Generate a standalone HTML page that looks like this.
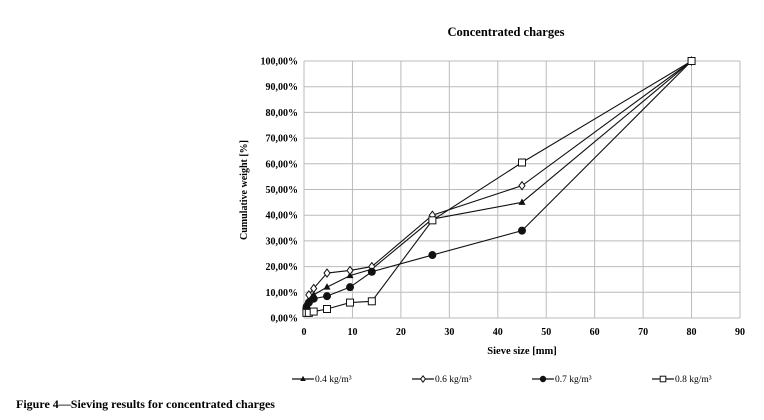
<!DOCTYPE html>
<html><head><meta charset="utf-8"><style>
body{margin:0;background:#fff;}
svg{display:block;font-family:"Liberation Serif",serif;}
</style></head><body>
<svg id="chart" width="764" height="420">
<text x="506" y="36" text-anchor="middle" font-size="12.5" font-weight="bold">Concentrated charges</text>
<g id="grid"></g><g id="axes"></g><g id="series"></g>
<text transform="translate(247,190) rotate(-90)" text-anchor="middle" font-size="10" font-weight="bold">Cumulative weight [%]</text>
<text x="522" y="354" text-anchor="middle" font-size="10.5" font-weight="bold">Sieve size [mm]</text>
<g id="legend"></g>
<text x="16" y="408" font-size="12" font-weight="bold">Figure 4—Sieving results for concentrated charges</text>
</svg>
<script>
const xTicks=[0,10,20,30,40,50,60,70,80,90];
const yTicks=[0,10,20,30,40,50,60,70,80,90,100];
const seriesNames=["0.4 kg/m³","0.6 kg/m³","0.7 kg/m³","0.8 kg/m³"];
const seriesMarkers=["triangle","diamond","circle","square"];
const sizes=[0.5,1,2,4.75,9.5,14,26.5,45,80];
const s04=[4,7,9,12,16.5,19,38.5,45,100];
const s06=[5,9,11.5,17.5,18.5,20,40,51.5,100];
const s07=[4,6,7.5,8.5,12,18,24.5,34,100];
const s08=[2,2,2.5,3.5,6,6.5,38,60.5,100];
const allSeries=[s04,s06,s07,s08];
const X0=304,X1=740,Y0=318,Y1=61;
const sx=v=>X0+(v-0)/90*(X1-X0);
const sy=v=>Y0-(v/100)*(Y0-Y1);
const NS="http://www.w3.org/2000/svg";
function mk(tag,attrs,parent){const e=document.createElementNS(NS,tag);for(const k in attrs)e.setAttribute(k,attrs[k]);parent.appendChild(e);return e;}
const grid=document.getElementById('grid'),axes=document.getElementById('axes'),ser=document.getElementById('series'),leg=document.getElementById('legend');
yTicks.forEach(t=>{const l=mk('line',{x1:X0,x2:X1,y1:sy(t),y2:sy(t),stroke:'#bbb','stroke-width':1},grid);

const tx=mk('text',{x:X0-6,y:sy(t)+3.5,'text-anchor':'end','font-size':10,'font-weight':'bold'},axes);tx.textContent=t.toFixed(2).replace('.',',')+'%';
});
xTicks.forEach(t=>{const l=mk('line',{x1:sx(t),x2:sx(t),y1:Y0,y2:Y1,stroke:'#bbb','stroke-width':1},grid);

const tx=mk('text',{x:sx(t),y:Y0+17,'text-anchor':'middle','font-size':10,'font-weight':'bold'},axes);tx.textContent=t;
});
function marker(type,x,y,p,s){s=s||1;let e;
if(type==='triangle')e=mk('polygon',{points:`${x},${y-4*s} ${x-3.5*s},${y+2.5*s} ${x+3.5*s},${y+2.5*s}`,fill:'#111'},p);
else if(type==='diamond')e=mk('polygon',{points:`${x},${y-4*s} ${x+3*s},${y} ${x},${y+4*s} ${x-3*s},${y}`,fill:'#fff',stroke:'#111','stroke-width':1},p);
else if(type==='circle')e=mk('circle',{cx:x,cy:y,r:4*s,fill:'#111'},p);
else e=mk('rect',{x:x-3.5*s,y:y-3.5*s,width:7*s,height:7*s,fill:'#fff',stroke:'#111','stroke-width':1},p);
return e;}
allSeries.forEach((vals,i)=>{const g=mk('g',{},ser);

const pts=sizes.map((s,j)=>[sx(s),sy(vals[j])]);
const pl=mk('polyline',{points:pts.map(p=>p.join(',')).join(' '),fill:'none',stroke:'#111','stroke-width':1.1},g);

pts.forEach(p=>{const m=marker(seriesMarkers[i],p[0],p[1],g);});});
const lx=[292,412,532,652];
seriesNames.forEach((n,i)=>{const g=mk('g',{},leg);
mk('line',{x1:lx[i],x2:lx[i]+22,y1:379,y2:379,stroke:'#111','stroke-width':1.2},g);
marker(seriesMarkers[i],lx[i]+11,379,g,0.8);
const t=mk('text',{x:lx[i]+23,y:382,'font-size':9.5},g);t.textContent=n;});
</script>
</body></html>
